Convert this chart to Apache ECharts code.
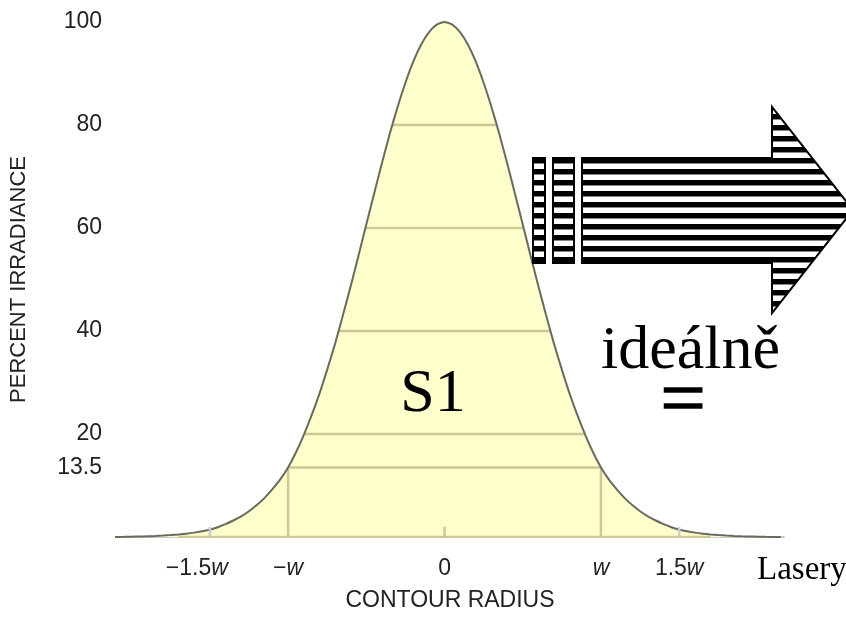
<!DOCTYPE html>
<html>
<head>
<meta charset="utf-8">
<script src="https://cdn.jsdelivr.net/npm/echarts@6/dist/echarts.min.js"></script>
<style>
html,body{margin:0;padding:0;background:#fff;}
#chart{width:846px;height:619px;}
</style>
</head>
<body>
<div id="chart"></div>
<script>
// ---- data (radius in units of w, irradiance in percent) ----
const radiusW = [-2.15,-2.10,-2.05,-2.00,-1.95,-1.90,-1.85,-1.80,-1.75,-1.70,-1.65,-1.60,-1.55,-1.50,-1.45,-1.40,-1.35,-1.30,-1.25,-1.20,-1.15,-1.10,-1.05,-1.00,-0.95,-0.90,-0.85,-0.80,-0.75,-0.70,-0.65,-0.60,-0.55,-0.50,-0.45,-0.40,-0.35,-0.30,-0.25,-0.20,-0.15,-0.10,-0.05,0,0.05,0.10,0.15,0.20,0.25,0.30,0.35,0.40,0.45,0.50,0.55,0.60,0.65,0.70,0.75,0.80,0.85,0.90,0.95,1.00,1.05,1.10,1.15,1.20,1.25,1.30,1.35,1.40,1.45,1.50,1.55,1.60,1.65,1.70,1.75,1.80,1.85,1.90,1.95,2.00,2.05,2.10,2.15];
const irradiance = [0,0.01,0.03,0.06,0.09,0.14,0.2,0.28,0.38,0.5,0.65,0.85,1.1,1.4,1.9,2.5,3.2,4.0,5.0,6.2,7.6,9.3,11.2,13.5,16.4,19.8,23.6,27.8,32.5,37.5,43.0,48.7,54.6,60.7,66.7,72.6,78.3,83.5,88.2,92.3,95.6,98.0,99.5,100,99.5,98.0,95.6,92.3,88.2,83.5,78.3,72.6,66.7,60.7,54.6,48.7,43.0,37.5,32.5,27.8,23.6,19.8,16.4,13.5,11.2,9.3,7.6,6.2,5.0,4.0,3.2,2.5,1.9,1.4,1.1,0.85,0.65,0.5,0.38,0.28,0.2,0.14,0.09,0.06,0.03,0.01,0];
const xTickValues = [-1.5, -1, 0, 1, 1.5];
const xTickNumbers = ['\u22121.5', '\u2212', '0', '', '1.5'];
const xMinorTicks = [-1.5, 0, 1.5];
const yTickValues = [13.5, 20, 40, 60, 80, 100];
const gridLevels = [13.5, 20, 40, 60, 80];
const baseLevel = 0.5;
const tickLevel = 2.0;
const waistMarks = [-1, 1];
const annotations = { s1: 'S1', ideal: 'ideáln\u011B', eq: '=', laser: 'Lasery' };
const axisNames = { x: 'CONTOUR RADIUS', y: 'PERCENT IRRADIANCE' };

// ---- helpers derived from the data ----
const curve = radiusW.map((r, i) => [r, irradiance[i]]);
function crossings(level) {
  let li = 0; while (li < irradiance.length && irradiance[li] < level) li++;
  let ri = irradiance.length - 1; while (ri >= 0 && irradiance[ri] < level) ri--;
  const lerp = (i0, i1) => {
    const y0 = irradiance[i0], y1 = irradiance[i1];
    const t = (level - y0) / (y1 - y0);
    return radiusW[i0] + t * (radiusW[i1] - radiusW[i0]);
  };
  const xl = li > 0 ? lerp(li - 1, li) : radiusW[0];
  const xr = ri < irradiance.length - 1 ? lerp(ri + 1, ri) : radiusW[radiusW.length - 1];
  return [xl, xr];
}
function valueAt(r) {
  const i = radiusW.findIndex(v => Math.abs(v - r) < 1e-9);
  return irradiance[i];
}

const TAN = '#cdc894';
const seg = (data, color, z) => ({ type: 'line', data, symbol: 'none', silent: true, z,
  lineStyle: { color, width: 2.5 }, animation: false });
const levelSeries = gridLevels.map(L => {
  const [a, b] = crossings(L);
  return seg([[a, L], [b, L]], TAN, 3);
});
const [ba, bb] = crossings(baseLevel);
levelSeries.push(seg([[ba, 0], [bb, 0]], TAN, 3));
waistMarks.forEach(r => levelSeries.push(seg([[r, 0], [r, valueAt(r)]], TAN, 3)));
// short inward ticks
xMinorTicks.forEach(r => {
  const inside = valueAt(r) > tickLevel;
  levelSeries.push(seg([[r, 0], [r, tickLevel]], inside ? TAN : '#cccccc', inside ? 3 : 6));
});

// stripe pattern for the arrow
const pc = document.createElement('canvas');
pc.width = 4; pc.height = 11;
const pctx = pc.getContext('2d');
pctx.fillStyle = '#fff'; pctx.fillRect(0, 0, 4, 11);
pctx.fillStyle = '#000'; pctx.fillRect(0, 0, 4, 5);
pctx.fillStyle = '#888'; pctx.fillRect(0, 5, 4, 1);
const stripe = { image: pc, repeat: 'repeat', x: 0, y: 4 };

const chart = echarts.init(document.getElementById('chart'), null, { renderer: 'canvas' });
const sansFont = 'Liberation Sans, Arial, sans-serif';
const serifFont = 'Liberation Serif, Times New Roman, serif';
const TXT = '#222';

chart.setOption({
  animation: false,
  backgroundColor: '#fff',
  grid: { left: 114, width: 670, top: 22, bottom: 82, containLabel: false },
  xAxis: {
    type: 'value', min: -2.1, max: 2.17,
    axisLine: { show: true, onZero: false, lineStyle: { color: '#cccccc', width: 2 } },
    axisTick: { show: false },
    splitLine: { show: false },
    axisLabel: {
      customValues: xTickValues, margin: 20, color: TXT,
      fontFamily: sansFont, fontSize: 23,
      formatter: function (v) {
        const i = xTickValues.findIndex(t => Math.abs(t - v) < 1e-9);
        if (i < 0) return '';
        if (xTickValues[i] === 0) return '{n|' + xTickNumbers[i] + '}';
        if (i === 0) return '{n|' + xTickNumbers[i] + '}{i|w}{p|}';
        return '{n|' + xTickNumbers[i] + '}{i|w}';
      },
      rich: {
        n: { fontFamily: sansFont, fontSize: 23, color: TXT },
        i: { fontFamily: sansFont, fontSize: 23, fontStyle: 'italic', color: TXT },
        p: { width: 26 }
      }
    },
    name: axisNames.x, nameLocation: 'middle', nameGap: 52,
    nameTextStyle: { fontFamily: sansFont, fontSize: 23, color: TXT }
  },
  yAxis: {
    type: 'value', min: 0, max: 100,
    axisLine: { show: true, lineStyle: { color: '#cccccc', width: 2.5 } },
    axisTick: { show: false },
    splitLine: { show: false },
    axisLabel: { customValues: yTickValues, margin: 14, color: TXT,
      fontFamily: sansFont, fontSize: 23 },
    name: axisNames.y, nameLocation: 'middle', nameGap: 86, nameRotate: 90,
    nameTextStyle: { fontFamily: sansFont, fontSize: 22, color: TXT }
  },
  series: [
    { type: 'line', data: curve, symbol: 'none', smooth: false, z: 2, silent: true,
      lineStyle: { width: 0 }, areaStyle: { color: '#ffffcc', opacity: 1 } },
    ...levelSeries,
    { type: 'line', data: curve, symbol: 'none', smooth: 0.2, z: 5, silent: true,
      lineStyle: { color: '#6a6a5e', width: 2 } }
  ],
  graphic: [
    { type: 'rect', shape: { x: 533, y: 158, width: 12, height: 105 },
      style: { fill: stripe, stroke: '#000', lineWidth: 2 }, z: 10 },
    { type: 'rect', shape: { x: 553, y: 158, width: 21, height: 105 },
      style: { fill: stripe, stroke: '#000', lineWidth: 2 }, z: 10 },
    { type: 'polygon', shape: { points: [[582,158],[772,158],[772,107],[853,210],[772,313],[772,263],[582,263]] },
      style: { fill: stripe, stroke: '#000', lineWidth: 2 }, z: 10 },
    { type: 'text', x: 433, y: 395, z: 10,
      style: { text: annotations.s1, font: '62px ' + serifFont, fill: '#000', align: 'center', verticalAlign: 'middle' } },
    { type: 'text', x: 601, y: 352, z: 10,
      style: { text: annotations.ideal, font: '62px ' + serifFont, fill: '#000', align: 'left', verticalAlign: 'middle' } },
    { type: 'text', x: 683, y: 404, z: 10,
      style: { text: annotations.eq, font: '80px ' + serifFont, fill: '#000', stroke: '#000', lineWidth: 1.5,
        align: 'center', verticalAlign: 'middle' } },
    { type: 'text', x: 757, y: 570, z: 10,
      style: { text: annotations.laser, font: '33px ' + serifFont, fill: '#000', align: 'left', verticalAlign: 'middle' } }
  ]
});
</script>
</body>
</html>
